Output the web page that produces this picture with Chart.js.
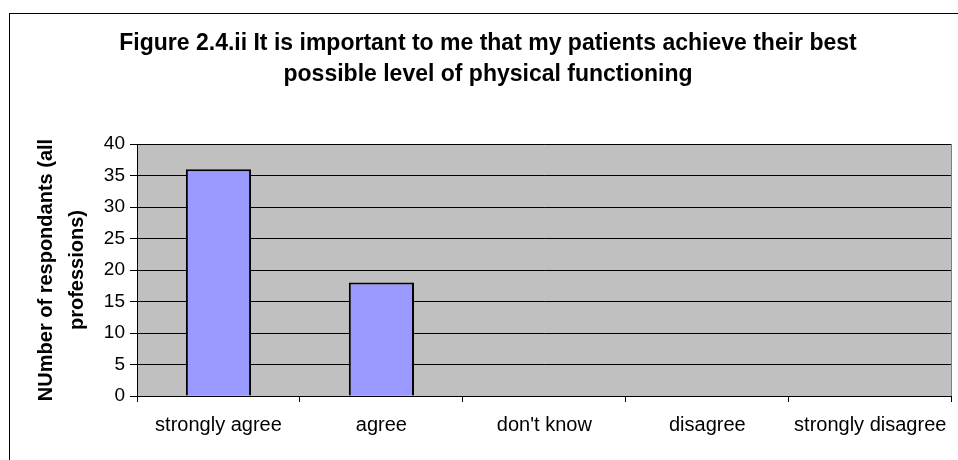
<!DOCTYPE html>
<html>
<head>
<meta charset="utf-8">
<script src="https://cdn.jsdelivr.net/npm/chart.js@4/dist/chart.umd.min.js"></script>
<style>
html,body{margin:0;padding:0;background:#fff;}
canvas{display:block;}
</style>
</head>
<body>
<canvas id="c" width="958" height="460"></canvas>
<script>
const titleLines = ["Figure 2.4.ii It is important to me that my patients achieve their best", "possible level of physical functioning"];
const yTitleLines = ["NUmber of respondants (all", "professions)"];
const categories = ["strongly agree", "agree", "don't know", "disagree", "strongly disagree"];
const values = [36, 18, 0, 0, 0];
const yMin = 0, yMax = 40, yStep = 5;

const FONT = "'Liberation Sans', Arial, sans-serif";

const framePlugin = {
  id: 'frame',
  beforeDraw(chart) {
    const {ctx, chartArea: a} = chart;
    ctx.save();
    ctx.fillStyle = '#fff';
    ctx.fillRect(0, 0, chart.width, chart.height);
    ctx.strokeStyle = '#000';
    ctx.lineWidth = 1;
    ctx.strokeRect(9.5, 13.5, chart.width + 20, chart.height + 20);
    ctx.fillStyle = '#C0C0C0';
    ctx.fillRect(a.left, a.top, a.right - a.left, a.bottom - a.top);
    ctx.restore();
  },
  afterDraw(chart) {
    const {ctx, chartArea: a} = chart;
    ctx.save();
    ctx.strokeStyle = '#808080';
    ctx.lineWidth = 1;
    ctx.beginPath();
    ctx.moveTo(Math.round(a.right) - 0.5, a.top);
    ctx.lineTo(Math.round(a.right) - 0.5, a.bottom);
    ctx.stroke();
    ctx.restore();
  }
};

new Chart(document.getElementById('c'), {
  type: 'bar',
  data: {
    labels: categories,
    datasets: [{
      data: values,
      backgroundColor: '#9999FF',
      borderColor: '#000',
      borderWidth: 2,
      barPercentage: 0.4,
      categoryPercentage: 1.0
    }]
  },
  plugins: [framePlugin],
  options: {
    responsive: false,
    devicePixelRatio: 1,
    animation: false,
    layout: { padding: { left: 24, right: 6, top: 0, bottom: 0 } },
    plugins: {
      legend: { display: false },
      tooltip: { enabled: false },
      title: {
        display: true,
        text: titleLines,
        color: '#000',
        font: { family: FONT, size: 23, weight: 'bold', lineHeight: '31px' },
        padding: { top: 28, bottom: 54 }
      }
    },
    scales: {
      x: {
        offset: true,
        afterFit(s) { s.height = 64; },
        grid: { offset: true, drawOnChartArea: false, drawTicks: true, tickLength: 6, color: '#000', lineWidth: 1 },
        border: { display: true, color: '#000', width: 1 },
        ticks: { color: '#000', font: { family: FONT, size: 20 }, padding: 11, maxRotation: 0, autoSkip: false }
      },
      y: {
        min: yMin, max: yMax,
        afterFit(s) { s.width = 113; },
        grid: { color: '#000', lineWidth: 1, drawTicks: true, tickLength: 7 },
        border: { display: true, color: '#000', width: 1 },
        ticks: { stepSize: yStep, color: '#000', font: { family: FONT, size: 19 }, padding: 5 },
        title: {
          display: true,
          text: yTitleLines,
          color: '#000',
          font: { family: FONT, size: 20, weight: 'bold', lineHeight: '31px' },
          padding: { top: 7, bottom: 0 }
        }
      }
    }
  }
});
</script>
</body>
</html>
